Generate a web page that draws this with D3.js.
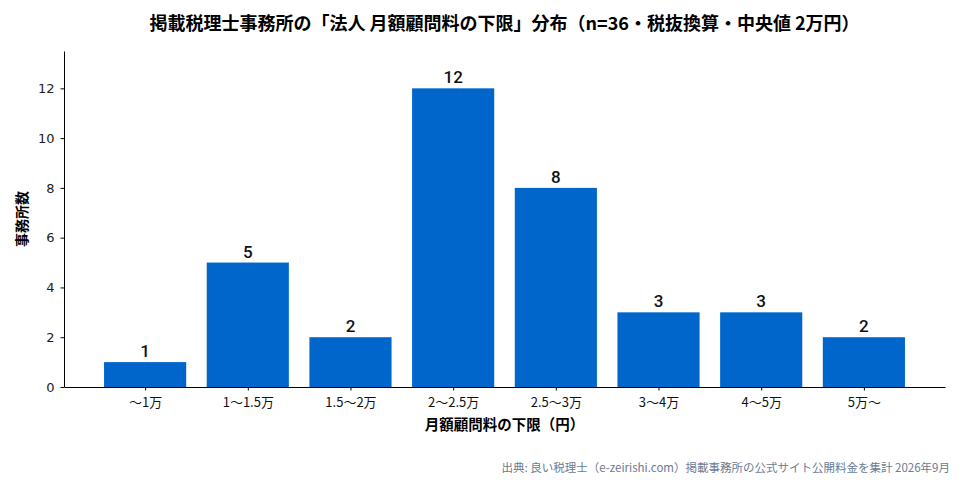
<!DOCTYPE html>
<html>
<head>
<meta charset="utf-8">
<script src="https://cdn.jsdelivr.net/npm/d3@7"></script>
<style>
  body { margin: 0; background: #fff; }
  text { font-family: "DejaVu Sans", "Noto Sans CJK JP", sans-serif; }
</style>
</head>
<body>
<svg id="chart"></svg>
<script>
// data
var categories = ["〜1万", "1〜1.5万", "1.5〜2万", "2〜2.5万", "2.5〜3万", "3〜4万", "4〜5万", "5万〜"]
var counts = [1, 5, 2, 12, 8, 3, 3, 2]
var yTicks = [0, 2, 4, 6, 8, 10, 12]

function drawChart() {
    let width = 960, height = 480;
    var margin = { top: 51, right: 15, bottom: 93, left: 64 },
        inner_width = width - margin.left - margin.right,
        inner_height = height - margin.top - margin.bottom;

    var svg = d3.select("#chart")
        .attr("width", width)
        .attr("height", height)
        .attr("viewBox", [0, 0, width, height])

    // matplotlib style: bar width 0.8 with 5% margins
    var xScale = d3.scaleLinear()
        .domain([-0.79, categories.length - 1 + 0.79])
        .range([margin.left, margin.left + inner_width]);
    var yScale = d3.scaleLinear()
        .domain([0, 13.5])
        .range([margin.top + inner_height, margin.top]);

    var cjk = "\"Noto Sans CJK JP\", sans-serif"

    // title
    svg.append("text")
        .attr("x", margin.left + inner_width / 2)
        .attr("y", 30)
        .attr("text-anchor", "middle")
        .style("font-family", cjk)
        .style("font-size", "18px")
        .style("font-weight", "bold")
        .text("掲載税理士事務所の「法人 月額顧問料の下限」分布（n=36・税抜換算・中央値 2万円）");

    // bars
    svg.selectAll("rect.bar")
        .data(counts)
        .enter()
        .append("rect")
        .attr("class", "bar")
        .attr("x", (d, i) => xScale(i - 0.4))
        .attr("width", xScale(0.8) - xScale(0))
        .attr("y", d => yScale(d))
        .attr("height", d => yScale(0) - yScale(d))
        .style("fill", "#0066cc");

    // value labels
    svg.selectAll("text.val")
        .data(counts)
        .enter()
        .append("text")
        .attr("class", "val")
        .attr("x", (d, i) => xScale(i))
        .attr("y", d => yScale(d) - 5)
        .attr("text-anchor", "middle")
        .style("font-family", "Roboto, sans-serif")
        .style("font-size", "17px")
        .style("font-weight", "500")
        .style("fill", "#111")
        .text(d => d);

    // x axis
    var xAxis = svg.append("g")
        .attr("class", "axis axis-x")
        .attr("transform", "translate(0," + (margin.top + inner_height) + ")")
        .call(d3.axisBottom(xScale)
            .tickValues(d3.range(categories.length))
            .tickFormat(i => categories[i])
            .tickSize(3.5)
            .tickSizeOuter(0)
            .tickPadding(7));
    xAxis.select(".domain").attr("stroke", "#000").attr("stroke-width", 1);
    xAxis.selectAll("text")
        .style("font-family", cjk)
        .style("font-size", "13px")
        .style("fill", "#111");

    // y axis
    var yAxis = svg.append("g")
        .attr("class", "axis axis-y")
        .attr("transform", "translate(" + margin.left + ",0)")
        .call(d3.axisLeft(yScale)
            .tickValues(yTicks)
            .tickSize(3.5)
            .tickSizeOuter(0)
            .tickPadding(6));
    yAxis.selectAll("text")
        .style("font-family", "\"DejaVu Sans\", sans-serif")
        .style("font-size", "13px")
        .style("fill", "#222");

    // axis labels
    svg.append("text")
        .attr("x", margin.left + inner_width / 2)
        .attr("y", 430)
        .attr("text-anchor", "middle")
        .style("font-family", cjk)
        .style("font-size", "14.5px")
        .style("font-weight", "bold")
        .text("月額顧問料の下限（円）");
    svg.append("text")
        .attr("transform", "rotate(-90)")
        .attr("x", -(margin.top + inner_height / 2))
        .attr("y", 27)
        .attr("text-anchor", "middle")
        .style("font-family", cjk)
        .style("font-size", "14px")
        .style("font-weight", "bold")
        .text("事務所数");

    // source note
    svg.append("text")
        .attr("x", 950)
        .attr("y", 472)
        .attr("text-anchor", "end")
        .style("font-family", cjk)
        .style("font-size", "11.5px")
        .style("fill", "#6b7b91")
        .text("出典: 良い税理士（e-zeirishi.com）掲載事務所の公式サイト公開料金を集計 2026年9月");
}
drawChart();
</script>
</body>
</html>
